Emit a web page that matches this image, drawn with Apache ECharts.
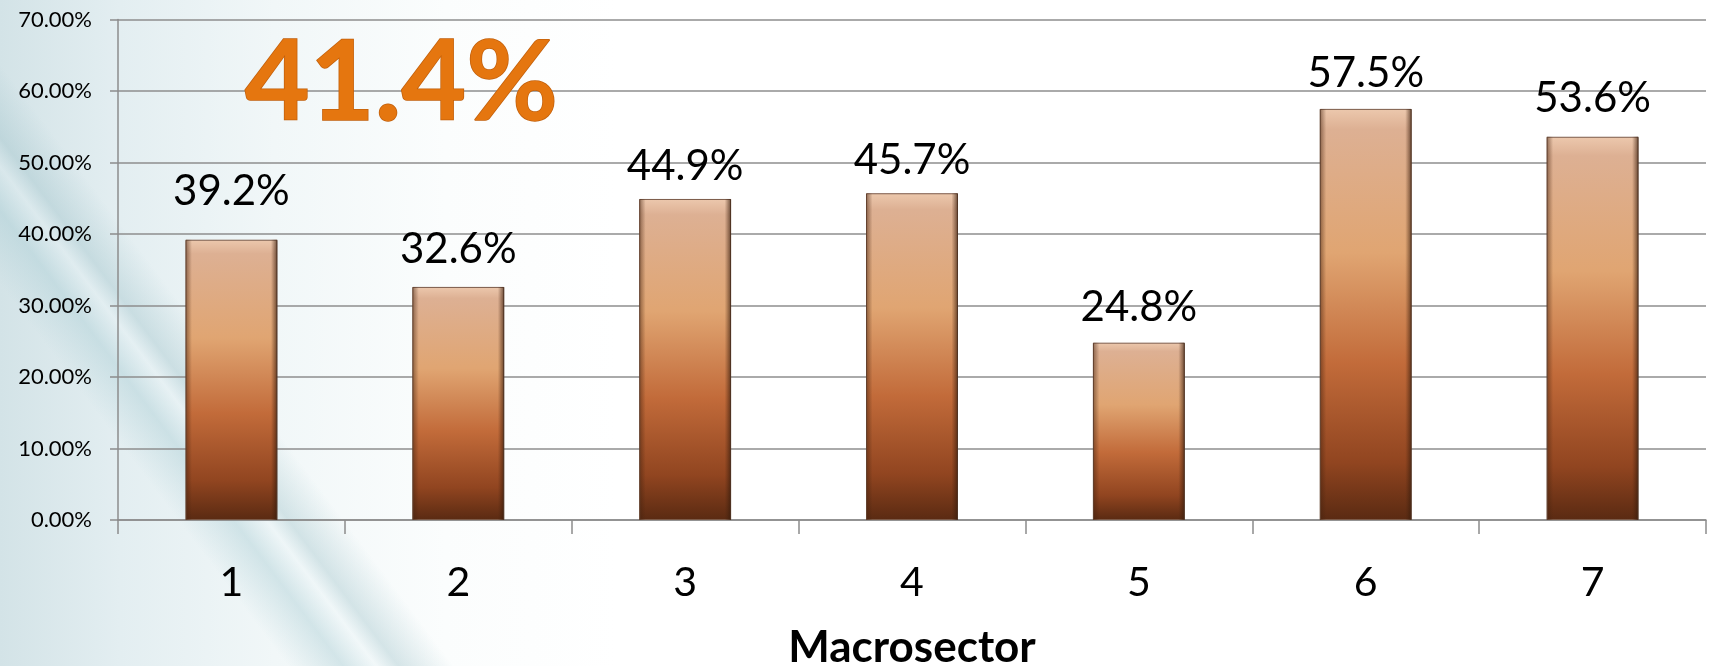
<!DOCTYPE html>
<html>
<head>
<meta charset="utf-8">
<script src="https://cdn.jsdelivr.net/npm/echarts@6/dist/echarts.min.js"></script>
<style>
html,body{margin:0;padding:0;width:1712px;height:666px;overflow:hidden;}
body{background:
 linear-gradient(53deg, rgba(255,255,255,0) 0%, rgba(255,255,255,0) 13%, rgba(170,205,212,0.45) 15.5%, rgba(230,242,245,0.3) 17%, rgba(160,195,202,0.4) 18%, rgba(255,255,255,0) 20.5%, rgba(255,255,255,0) 100%),
 linear-gradient(90deg, #d3e3e7 0%, #e3eef1 7%, #f1f7f8 16%, #fbfdfd 26%, #ffffff 36%, #ffffff 100%);}
#c{width:1712px;height:666px;}
</style>
</head>
<body>
<div id="c"></div>
<script>
const categories = ['1','2','3','4','5','6','7'];
const values = [39.2, 32.6, 44.9, 45.7, 24.8, 57.5, 53.6];
const yTicks = [0, 10, 20, 30, 40, 50, 60, 70];
const overallLabel = '41.4%';
const xAxisTitle = 'Macrosector';

const chart = echarts.init(document.getElementById('c'), null, {renderer:'canvas'});
const FONT = 'Lato, "Open Sans", sans-serif';

// per-bar label gap (styling, as placed in the reference)
const labelGap = [27, 16, 12, 12, 14, 14, 17];
const barData = values.map((v, i) => ({value: v, label: {distance: labelGap[i]}}));

chart.setOption({
  backgroundColor: 'transparent',
  animation: false,
  grid: {left:118, right:6, top:19.5, bottom:146, containLabel:false, outerBoundsMode:'none'},
  xAxis: {
    type:'category',
    data: categories,
    axisLine:{show:true, lineStyle:{color:'#8c8c8c', width:1.5}},
    axisTick:{show:true, length:14, lineStyle:{color:'#8c8c8c', width:1.5}},
    axisLabel:{color:'#000', fontFamily:FONT, fontSize:41, margin:42},
    name: xAxisTitle,
    nameLocation:'middle',
    nameGap:106,
    nameTextStyle:{color:'#000', fontFamily:FONT, fontSize:44, fontWeight:'bold'}
  },
  yAxis: {
    type:'value',
    min: yTicks[0], max: yTicks[yTicks.length-1], interval:10,
    axisLine:{show:true, lineStyle:{color:'#8c8c8c', width:1.5}},
    axisTick:{show:true, length:8, lineStyle:{color:'#8c8c8c', width:1.5}},
    splitLine:{show:true, lineStyle:{color:'#8e8e8e', width:1.5}},
    axisLabel:{color:'#000', fontFamily:FONT, fontSize:22, margin:26,
      formatter: v => v.toFixed(2) + '%'}
  },
  series: [
    {
      type:'bar',
      data: barData,
      barWidth:'40.5%',
      itemStyle:{
        color: new echarts.graphic.LinearGradient(0,0,0,1,[
          {offset:0, color:'#ecc8ad'},
          {offset:0.05, color:'#ddb093'},
          {offset:0.35, color:'#e0a572'},
          {offset:0.62, color:'#c26b3a'},
          {offset:0.86, color:'#914520'},
          {offset:1, color:'#5a2a12'}
        ]),
        borderColor:'#7b5a48', borderWidth:1
      },
      label:{
        show:true, position:'top', distance:14,
        color:'#000', fontFamily:FONT, fontSize:42,
        formatter: p => p.value.toFixed(1) + '%'
      },
      z:2
    },
    {
      type:'bar',
      data: values,
      barWidth:'40.5%',
      barGap:'-100%',
      silent:true,
      itemStyle:{
        color: new echarts.graphic.LinearGradient(0,0,1,0,[
          {offset:0, color:'rgba(70,35,15,0.55)'},
          {offset:0.07, color:'rgba(70,35,15,0.0)'},
          {offset:0.93, color:'rgba(70,35,15,0.0)'},
          {offset:1, color:'rgba(50,25,10,0.7)'}
        ])
      },
      z:3
    }
  ],
  graphic: [
    {
      type:'text',
      left:244, top:27,
      z:10,
      style:{
        text: overallLabel,
        font: 'bold 112px ' + FONT,
        fill: '#e5760f',
        stroke:'#c2600c', lineWidth:1.5,
        shadowColor:'rgba(0,0,0,0.45)', shadowBlur:7, shadowOffsetX:3, shadowOffsetY:3
      }
    }
  ]
});
</script>
</body>
</html>
